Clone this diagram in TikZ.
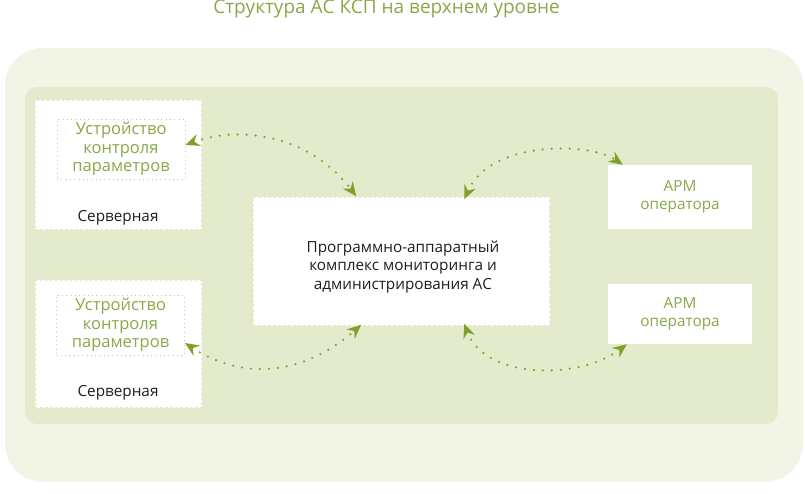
\documentclass[tikz,border=0pt]{standalone}
\usepackage{fontspec}
\setmainfont{Open Sans}
\usetikzlibrary{arrows.meta}
\definecolor{outerbg}{RGB}{242,245,230}
\definecolor{innerbg}{RGB}{228,235,204}
\definecolor{textgreen}{RGB}{138,168,72}
\definecolor{arrowgreen}{RGB}{128,160,42}
\definecolor{pinkdot}{RGB}{214,180,196}
\definecolor{textdark}{RGB}{30,30,30}

\begin{document}
\begin{tikzpicture}[x=1pt,y=-1pt,
  whitebox/.style={fill=white,draw=innerbg,line width=1.4pt,dash pattern=on 2.5pt off 2.5pt,inner sep=0pt},
  armbox/.style={fill=white,inner sep=0pt,minimum width=144,align=center,text=textgreen,font=\fontsize{15.3}{18}\selectfont},
  devbox/.style={draw=pinkdot,line width=0.9pt,dash pattern=on 0.9pt off 3.4pt,inner sep=0pt,minimum width=128,minimum height=60,align=center,text=textgreen,font=\fontsize{16.5}{18.5}\selectfont},
  lbl/.style={text=textdark,align=center,font=\fontsize{15.3}{18.5}\selectfont},
  link/.style={arrowgreen,line width=2.4pt,line cap=round,dash pattern=on 0pt off 9pt,>={Stealth[length=14pt,width=12pt]},<->}]
  \useasboundingbox (0,0) rectangle (805,494);
  \fill[outerbg,rounded corners=38pt] (5,48) rectangle (803,482);
  \fill[innerbg,rounded corners=12pt] (25,87) rectangle (778,424);
  \node (title) at (386.5,14) [anchor=base,text=textgreen,font=\fontsize{19}{22}\selectfont] {Структура АС КСП на верхнем уровне};
  \node (srv1) at (118.5,165) [whitebox,minimum width=167,minimum height=130] {};
  \node (srv2) at (118.5,344) [whitebox,minimum width=167,minimum height=128] {};
  \node (dev1) at (121,149) [devbox] {Устройство\\контроля\\параметров};
  \node (dev2) at (120.5,325) [devbox] {Устройство\\контроля\\параметров};
  \node (srv1lbl) at (118,218) [lbl] {Серверная};
  \node (srv2lbl) at (118,393) [lbl] {Серверная};
  \node (pak) at (401.5,261.5) [whitebox,minimum width=297,minimum height=129] {};
  \node (paklbl) at (403,267) [lbl] {Программно-аппаратный\\комплекс мониторинга и\\администрирования АС};
  \node (arm1) at (680,197) [armbox,minimum height=64] {АРМ\\оператора};
  \node (arm2) at (680,314) [armbox,minimum height=60] {АРМ\\оператора};
  \draw[link] ([yshift=4pt]dev1.east) .. controls (240,125) and (310,135) .. ([xshift=104pt]pak.north west);
  \draw[link] ([xshift=212pt,yshift=-3pt]pak.north west) .. controls (490,140) and (590,142) .. ([xshift=15pt]arm1.north west);
  \draw[link] ([yshift=-18pt]dev2.east) .. controls (250,385) and (310,370) .. ([xshift=109pt,yshift=2pt]pak.south west);
  \draw[link] ([xshift=212pt,yshift=3pt]pak.south west) .. controls (485,380) and (580,380) .. ([xshift=19pt]arm2.south west);
\end{tikzpicture}
\end{document}
